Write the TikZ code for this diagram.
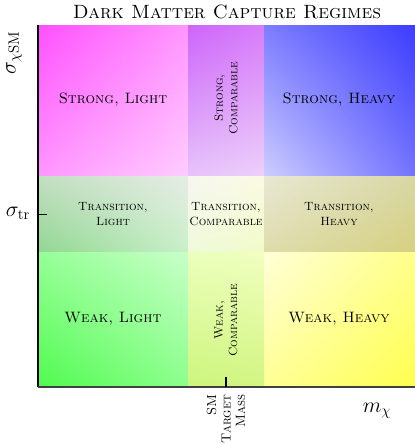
\documentclass[tikz,border=0pt]{standalone}
\usepackage{amsmath}
\usetikzlibrary{shadings}

% Region colours
\definecolor{slA}{RGB}{255,80,255}
\definecolor{slB}{RGB}{255,150,255}
\definecolor{slC}{RGB}{255,205,255}
\definecolor{scA}{RGB}{205,100,250}
\definecolor{scB}{RGB}{215,125,250}
\definecolor{scC}{RGB}{230,195,250}
\definecolor{scD}{RGB}{236,208,250}
\definecolor{shA}{RGB}{125,125,255}
\definecolor{shB}{RGB}{60,60,255}
\definecolor{shC}{RGB}{205,205,255}
\definecolor{shD}{RGB}{115,115,255}
\definecolor{tlA}{RGB}{195,222,195}
\definecolor{tlB}{RGB}{230,236,230}
\definecolor{tlC}{RGB}{145,215,145}
\definecolor{tlD}{RGB}{200,240,200}
\definecolor{tcA}{RGB}{246,247,240}
\definecolor{tcB}{RGB}{250,250,228}
\definecolor{tcC}{RGB}{238,250,218}
\definecolor{tcD}{RGB}{242,250,200}
\definecolor{thA}{RGB}{232,232,212}
\definecolor{thB}{RGB}{215,215,165}
\definecolor{thC}{RGB}{222,220,172}
\definecolor{thD}{RGB}{214,208,128}
\definecolor{wlA}{RGB}{150,255,150}
\definecolor{wlB}{RGB}{200,255,200}
\definecolor{wlC}{RGB}{80,250,80}
\definecolor{wlD}{RGB}{140,255,140}
\definecolor{wcA}{RGB}{235,255,188}
\definecolor{wcB}{RGB}{240,255,190}
\definecolor{wcC}{RGB}{205,245,125}
\definecolor{wcD}{RGB}{210,245,130}
\definecolor{whA}{RGB}{255,255,215}
\definecolor{whB}{RGB}{255,255,140}
\definecolor{whC}{RGB}{255,255,150}
\definecolor{whD}{RGB}{255,255,80}

\begin{document}
\begin{tikzpicture}[x=0.028cm, y=-0.028cm, thick,
    regime/.style={align=center, font=\large\scshape},
    small regime/.style={align=center, font=\fontsize{9.5}{11.5}\selectfont\scshape}]
    \useasboundingbox (0,0) rectangle (415,444);
    \def\xL{38}
    \def\xA{188}
    \def\xB{264}
    \def\xR{415}
    \def\yT{25}
    \def\yA{176}
    \def\yB{252}
    \def\yO{387}

    % Strong row
    \shade[upper left=slA, upper right=slB, lower left=slB, lower right=slC] (\xL,\yT) rectangle (\xA,\yA);
    \shade[upper left=scA, upper right=scB, lower left=scC, lower right=scD] (\xA,\yT) rectangle (\xB,\yA);
    \shade[upper left=shA, upper right=shB, lower left=shC, lower right=shD] (\xB,\yT) rectangle (\xR,\yA);
    % Transition row
    \shade[upper left=tlA, upper right=tlB, lower left=tlC, lower right=tlD] (\xL,\yA) rectangle (\xA,\yB);
    \shade[upper left=tcA, upper right=tcB, lower left=tcC, lower right=tcD] (\xA,\yA) rectangle (\xB,\yB);
    \shade[upper left=thA, upper right=thB, lower left=thC, lower right=thD] (\xB,\yA) rectangle (\xR,\yB);
    % Weak row
    \shade[upper left=wlA, upper right=wlB, lower left=wlC, lower right=wlD] (\xL,\yB) rectangle (\xA,\yO);
    \shade[upper left=wcA, upper right=wcB, lower left=wcC, lower right=wcD] (\xA,\yB) rectangle (\xB,\yO);
    \shade[upper left=whA, upper right=whB, lower left=whC, lower right=whD] (\xB,\yB) rectangle (\xR,\yO);

    % Labels
    \node[regime] (sl) at (113,100) {Strong, Light};
    \node[small regime, rotate=90] (sc) at (226,98) {Strong,\\Comparable};
    \node[regime] (sh) at (339,100) {Strong, Heavy};
    \node[small regime] (tl) at (113,214) {Transition,\\Light};
    \node[small regime] (tc) at (226,214) {Transition,\\Comparable};
    \node[small regime] (th) at (339,214) {Transition,\\Heavy};
    \node[regime] (wl) at (113,319) {Weak, Light};
    \node[small regime, rotate=90] (wc) at (226,320) {Weak,\\Comparable};
    \node[regime] (wh) at (339,319) {Weak, Heavy};

    % Axes
    \draw (\xL,\yT) -- (\xL,\yO);
    \draw[black!75, line width=1pt] (\xL,\yO) -- (\xR,\yO);
    \draw (\xL,214) -- (47,214);
    \draw (226,\yO) -- (226,377);

    % Axis labels
    \node[font=\fontsize{15.3}{18}\selectfont\scshape] (title) at (227,12) {Dark Matter Capture Regimes};
    \node[rotate=90, font=\LARGE] (ylab) at (14,53) {$\sigma_{\chi\mathrm{SM}}$};
    \node[font=\LARGE] (ytr) at (18,213) {$\sigma_{\mathrm{tr}}$};
    \node[font=\LARGE] (xlab) at (377,411) {$m_\chi$};
    \node[font=\fontsize{10.5}{11.5}\selectfont\scshape, rotate=90, anchor=east, align=right] (xsm) at (226,390) {SM\\Target\\Mass};
\end{tikzpicture}
\end{document}
